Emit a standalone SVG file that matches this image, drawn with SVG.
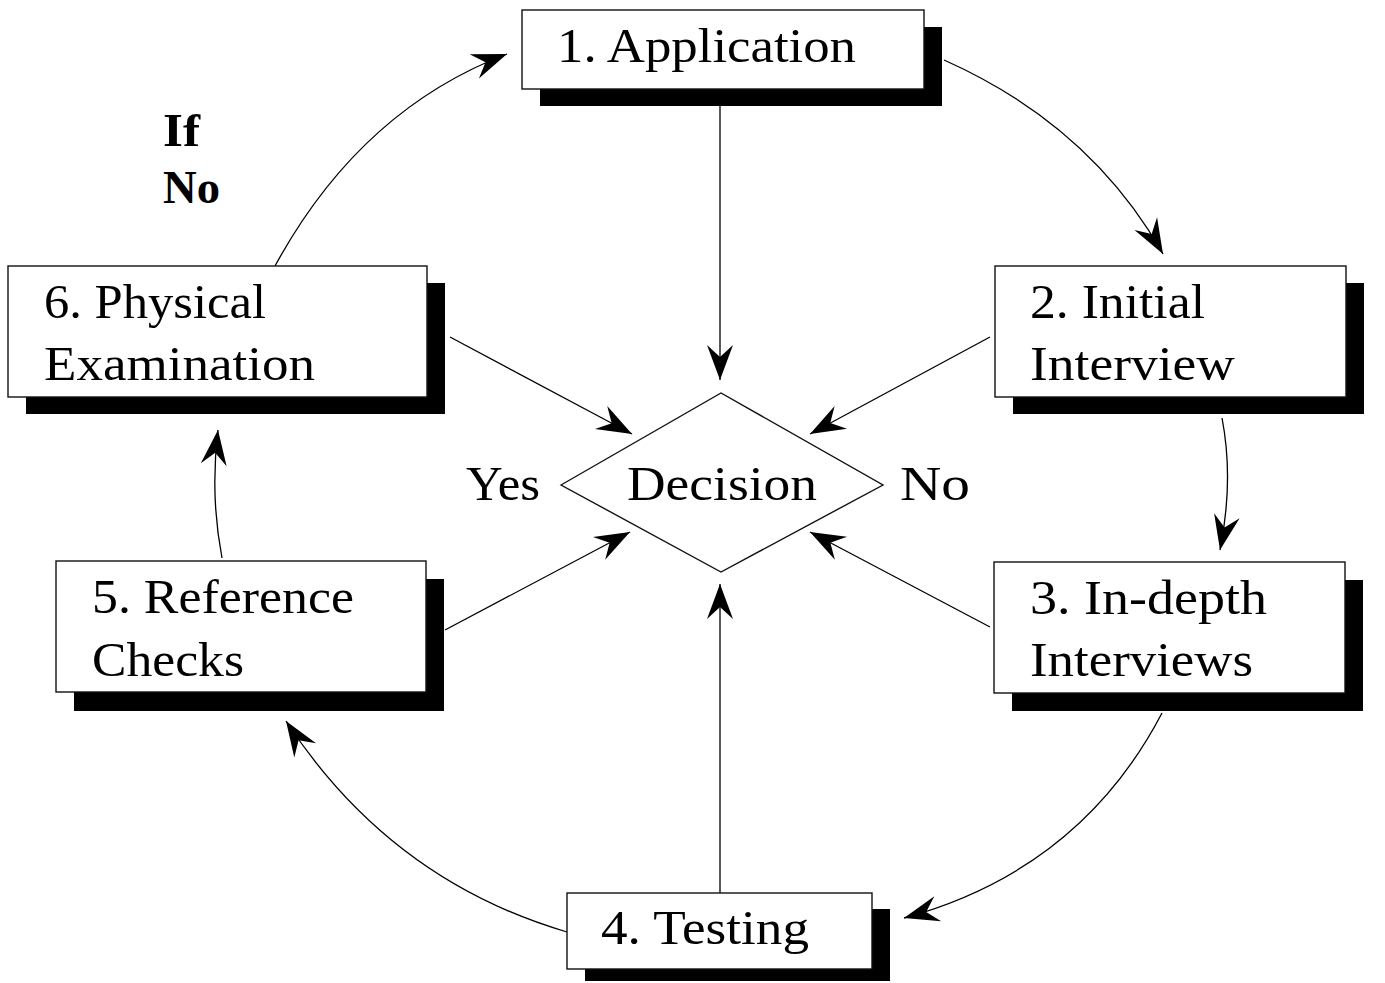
<svg xmlns="http://www.w3.org/2000/svg" width="1385" height="983" viewBox="0 0 1385 983">
<style>
.box{fill:#fff;stroke:#111;stroke-width:1.4}
.sh{fill:#000}
.t{font-family:"Liberation Serif",serif;font-size:48px;fill:#000}
.c{fill:none;stroke:#000;stroke-width:1.3}
.b{font-family:"Liberation Serif",serif;font-size:46px;font-weight:bold;fill:#000}
</style>
<defs>
<marker id="ah" markerUnits="userSpaceOnUse" viewBox="-37 -15 39 30" refX="0" refY="0" markerWidth="39" markerHeight="30" orient="auto">
<path d="M0,0 L-35,-13 L-23,0 L-35,13 Z" fill="#000"/>
</marker>
</defs>
<rect width="1385" height="983" fill="#fff"/>
<g id="connectors">
<path class="c" d="M720,89 L720,380" marker-end="url(#ah)"/>
<path class="c" d="M450,337 L632,434" marker-end="url(#ah)"/>
<path class="c" d="M990,337 L810,434" marker-end="url(#ah)"/>
<path class="c" d="M445,630 L630,532" marker-end="url(#ah)"/>
<path class="c" d="M990,627 L810,532" marker-end="url(#ah)"/>
<path class="c" d="M720,893 L720,584" marker-end="url(#ah)"/>
<path class="c" d="M944,60 Q1090,125 1163,254" marker-end="url(#ah)"/>
<path class="c" d="M1222,418 Q1234,480 1220,550" marker-end="url(#ah)"/>
<path class="c" d="M1162,713 Q1080,870 904,918" marker-end="url(#ah)"/>
<path class="c" d="M567,932 Q390,880 286,721" marker-end="url(#ah)"/>
<path class="c" d="M222,558 Q210,495 218,430" marker-end="url(#ah)"/>
<path class="c" d="M275,266 Q360,110 507,54" marker-end="url(#ah)"/>
</g>
<g id="n1">
<rect class="sh" x="540" y="27" width="402" height="79"/>
<rect class="box" x="522" y="10" width="402" height="79"/>
<text class="t" x="557" y="62" textLength="299" lengthAdjust="spacingAndGlyphs">1. Application</text>
</g>
<g id="n2">
<rect class="sh" x="1013" y="283" width="351" height="131"/>
<rect class="box" x="995" y="266" width="351" height="131"/>
<text class="t" x="1030" y="318" textLength="175" lengthAdjust="spacingAndGlyphs">2. Initial</text>
<text class="t" x="1030" y="380" textLength="205" lengthAdjust="spacingAndGlyphs">Interview</text>
</g>
<g id="n3">
<rect class="sh" x="1012" y="580" width="351" height="131"/>
<rect class="box" x="994" y="562" width="351" height="131"/>
<text class="t" x="1030" y="614" textLength="237" lengthAdjust="spacingAndGlyphs">3. In-depth</text>
<text class="t" x="1030" y="676" textLength="223" lengthAdjust="spacingAndGlyphs">Interviews</text>
</g>
<g id="n4">
<rect class="sh" x="585" y="909" width="305" height="72"/>
<rect class="box" x="567" y="893" width="305" height="76"/>
<text class="t" x="601" y="944" textLength="208" lengthAdjust="spacingAndGlyphs">4. Testing</text>
</g>
<g id="n5">
<rect class="sh" x="74" y="579" width="370" height="132"/>
<rect class="box" x="56" y="561" width="370" height="131"/>
<text class="t" x="92" y="613" textLength="262" lengthAdjust="spacingAndGlyphs">5. Reference</text>
<text class="t" x="92" y="676" textLength="152" lengthAdjust="spacingAndGlyphs">Checks</text>
</g>
<g id="n6">
<rect class="sh" x="26" y="283" width="419" height="131"/>
<rect class="box" x="8" y="266" width="419" height="131"/>
<text class="t" x="44" y="318" textLength="222" lengthAdjust="spacingAndGlyphs">6. Physical</text>
<text class="t" x="44" y="380" textLength="271" lengthAdjust="spacingAndGlyphs">Examination</text>
</g>
<g id="decision">
<polygon class="box" points="561,485 721,393 883,485 721,572"/>
<text class="t" x="627" y="500" textLength="190" lengthAdjust="spacingAndGlyphs">Decision</text>
</g>
<g id="labels">
<text class="t" x="466" y="500" textLength="74" lengthAdjust="spacingAndGlyphs">Yes</text>
<text class="t" x="900" y="500" textLength="70" lengthAdjust="spacingAndGlyphs">No</text>
<text class="b" x="163" y="146" textLength="37" lengthAdjust="spacingAndGlyphs">If</text>
<text class="b" x="163" y="203" textLength="57" lengthAdjust="spacingAndGlyphs">No</text>
</g>
</svg>
